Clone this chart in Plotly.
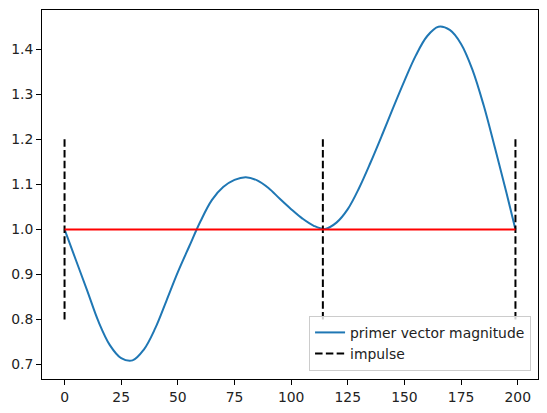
import plotly.graph_objects as go

# primer vector magnitude (every 5 time steps)
t = [0, 5, 10, 15, 20, 25, 30, 35, 40, 45, 50, 55, 60, 65, 70, 75, 80, 85, 90,
     95, 100, 105, 110, 115, 120, 125, 130, 135, 140, 145, 150, 155, 160, 165,
     170, 175, 180, 185, 190, 195, 199]
p_mag = [1.0, 0.932, 0.864, 0.795, 0.743, 0.714, 0.709, 0.733, 0.780, 0.842,
         0.905, 0.962, 1.018, 1.065, 1.094, 1.110, 1.116, 1.109, 1.092, 1.068,
         1.045, 1.024, 1.008, 1.001, 1.015, 1.045, 1.092, 1.148, 1.208, 1.270,
         1.330, 1.386, 1.429, 1.450, 1.443, 1.412, 1.355, 1.275, 1.180, 1.082, 1.0]

# impulse times and dashed marker extent
impulse_t = [0, 114, 199]
impulse_lo, impulse_hi = 0.8, 1.2
ref_level = 1.0

FONT = 'DejaVu Sans'

fig = go.Figure()

fig.add_trace(go.Scatter(
    x=t, y=p_mag, mode='lines', name='primer vector magnitude',
    line=dict(color='#1f77b4', width=2, shape='spline', smoothing=1.0),
))

ix, iy = [], []
for ti in impulse_t:
    ix += [ti, ti, None]
    iy += [impulse_lo, impulse_hi, None]
fig.add_trace(go.Scatter(
    x=ix, y=iy, mode='lines', name='impulse',
    line=dict(color='black', width=2, dash='7.5px,3.3px'),
))

fig.add_trace(go.Scatter(
    x=[t[0], t[-1]], y=[ref_level, ref_level], mode='lines', showlegend=False,
    line=dict(color='red', width=2),
))

axis_style = dict(
    showline=True, linecolor='black', linewidth=1, mirror=True,
    ticks='outside', ticklen=5, tickwidth=1, tickcolor='black',
    showgrid=False, zeroline=False, automargin=False,
    tickfont=dict(family=FONT, size=13.9, color='#222'),
)

fig.update_xaxes(range=[-9.95, 208.95], tickvals=list(range(0, 201, 25)), **axis_style)
fig.update_yaxes(range=[0.6677, 1.4873], tickvals=[0.7, 0.8, 0.9, 1.0, 1.1, 1.2, 1.3, 1.4],
                 tickformat='.1f', **axis_style)

# page body has an 8px margin, so the figure is a bit smaller and offset
fig.update_layout(
    width=539, height=405,
    margin=dict(l=34, r=9, t=2, b=34),
    plot_bgcolor='white', paper_bgcolor='white',
    font=dict(family=FONT, size=13.9, color='#222'),
    legend=dict(
        x=0.986, y=0.022, xanchor='right', yanchor='bottom',
        bgcolor='rgba(255,255,255,0.8)', bordercolor='#cccccc', borderwidth=1,
        font=dict(family=FONT, size=13.9), itemwidth=30, tracegroupgap=0,
    ),
)

fig.write_html('out.html')
